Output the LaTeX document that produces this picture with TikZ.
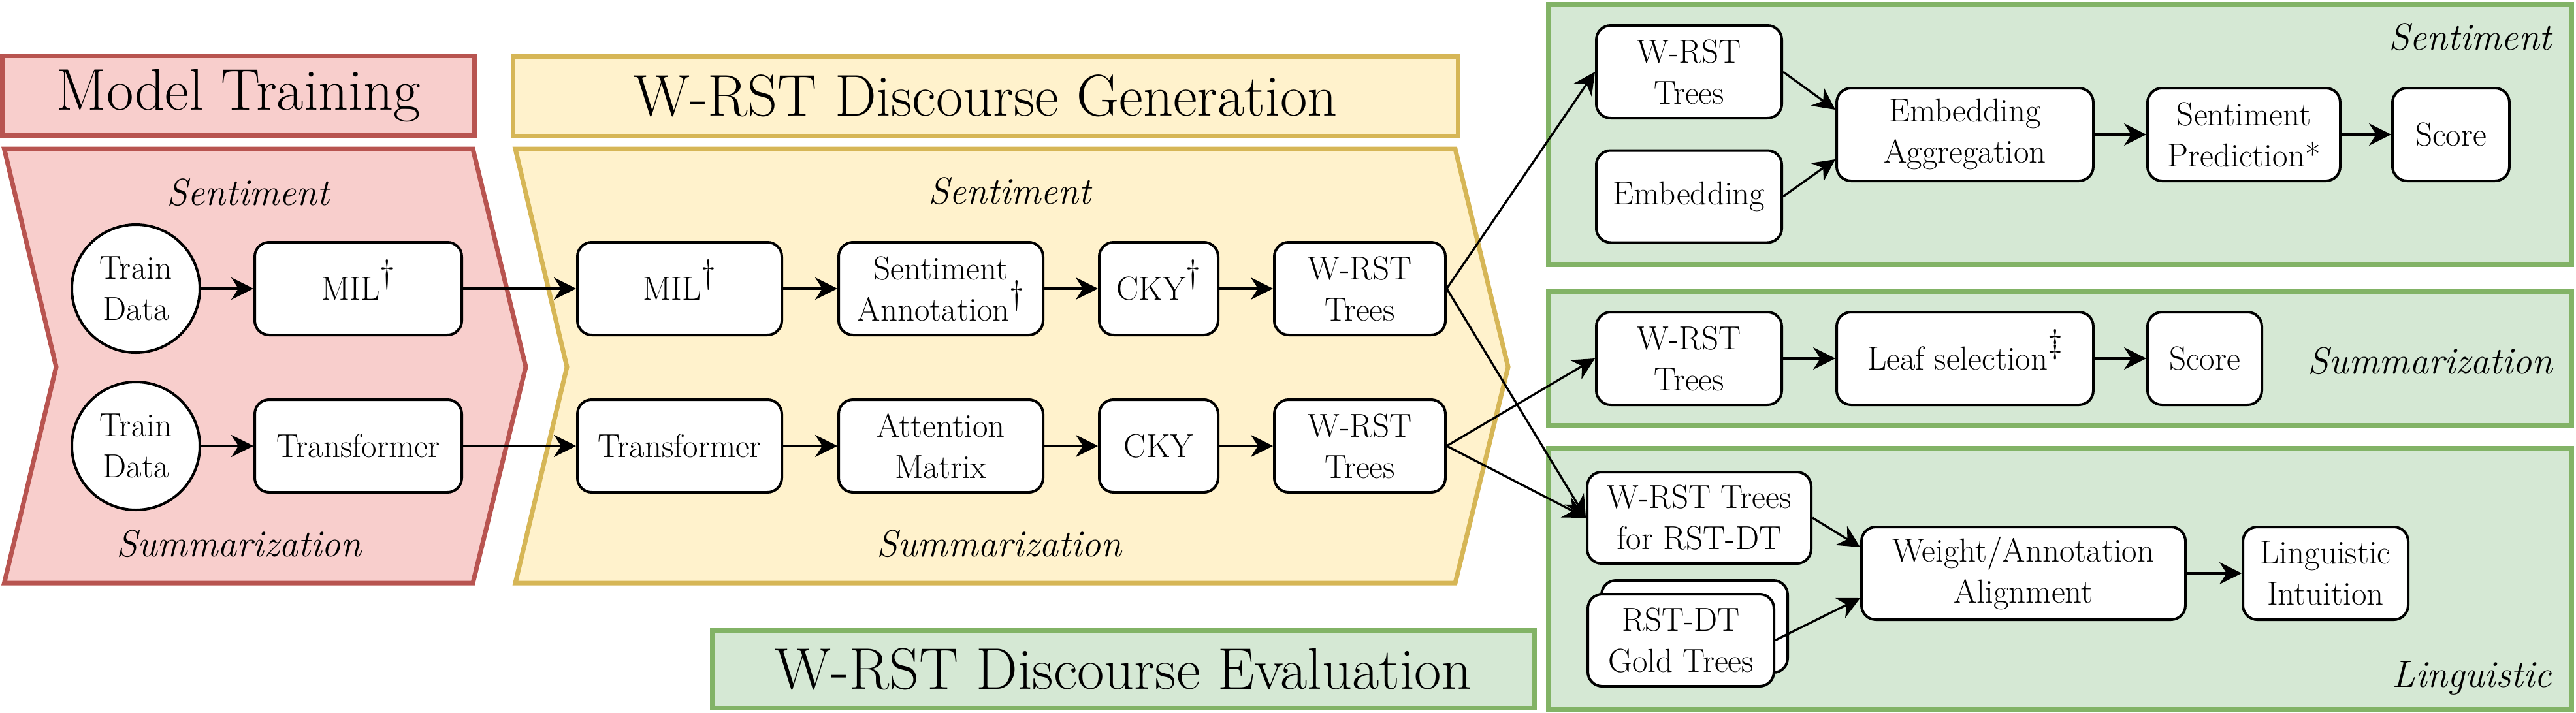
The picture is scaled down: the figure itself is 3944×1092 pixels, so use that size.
\documentclass[tikz,border=0pt]{standalone}
\usepackage{fontspec}
\usetikzlibrary{arrows.meta}
\definecolor{redS}{HTML}{B85450}
\definecolor{redF}{HTML}{F8CECC}
\definecolor{yelS}{HTML}{D6B656}
\definecolor{yelF}{HTML}{FFF2CC}
\definecolor{grnS}{HTML}{82B366}
\definecolor{grnF}{HTML}{D5E8D4}
\newcommand{\myboxfont}{\fontsize{51}{63}\selectfont}
\newcommand{\mylabfont}{\fontsize{58}{68}\selectfont\itshape}
\newcommand{\mytitlefont}{\fontsize{90}{100}\selectfont}
\newcommand{\mydag}{\raisebox{26pt}[0pt][0pt]{\dag}}
\newcommand{\myddag}{\raisebox{26pt}[0pt][0pt]{\ddag}}
\begin{document}
\begin{tikzpicture}[x=1pt,y=-1pt,
  bx/.style 2 args={draw, line width=4pt, rounded corners=22pt, fill=white, align=center,
    font=\myboxfont, inner sep=0pt, minimum width=#1pt, minimum height=#2pt},
  circ/.style={draw, circle, line width=4pt, fill=white, align=center, font=\myboxfont,
    minimum size=196pt, inner sep=0pt},
  arr/.style={line width=3.3pt, -{Stealth[length=34pt,width=34pt,inset=11pt]}},
  lbl/.style={font=\mylabfont, inner sep=0pt},
  ttl/.style 2 args={draw, line width=7pt, font=\mytitlefont, inner sep=0pt,
    minimum width=#1pt, minimum height=#2pt},
  panel/.style={line width=7pt}
]
\useasboundingbox (0,0) rectangle (3944,1092);

% panels
\draw[panel, draw=redS, fill=redF] (6.5,228) -- (724,228) -- (805,562) -- (724,893) -- (6.5,893) -- (86,562) -- cycle;
\draw[panel, draw=yelS, fill=yelF] (789,228) -- (2228,228) -- (2309,562) -- (2228,893) -- (789,893) -- (868,562) -- cycle;
\draw[panel, draw=grnS, fill=grnF] (2370,6.5) rectangle (3937.5,405.5);
\draw[panel, draw=grnS, fill=grnF] (2370,446) rectangle (3937.5,651);
\draw[panel, draw=grnS, fill=grnF] (2370,686) rectangle (3937.5,1086);

% titles
\node[ttl={723}{122}, draw=redS, fill=redF] (tmt) at (365,146.5) {Model Training};
\node[ttl={1447}{122}, draw=yelS, fill=yelF] (tgen) at (1509,147) {W-RST Discourse Generation};
\node[ttl={1259}{119}, draw=grnS, fill=grnF] (teval) at (1720,1025) {W-RST Discourse Evaluation};

% labels
\node[lbl, anchor=base] (l1) at (380,314) {Sentiment};
\node[lbl, anchor=base] (l2) at (366,852) {Summarization};
\node[lbl, anchor=base] (l3) at (1546,312) {Sentiment};
\node[lbl, anchor=base] (l4) at (1530,852) {Summarization};
\node[lbl, anchor=base east] (l5) at (3907,76) {Sentiment};
\node[lbl, anchor=base east] (l6) at (3909,572) {Summarization};
\node[lbl, anchor=base east] (l7) at (3907,1052) {Linguistic};

% model training
\node[circ] (td1) at (208,442) {Train\\Data};
\node[circ] (td2) at (208,683) {Train\\Data};
\node[bx={317}{142}] (mil1) at (548.5,442) {MIL\mydag};
\node[bx={317}{142}] (tr1) at (548.5,683) {Transformer};

% generation
\node[bx={313}{142}] (mil2) at (1040.5,442) {MIL\mydag};
\node[bx={313}{142}] (sa) at (1440.5,442) {Sentiment\\Annotation\mydag};
\node[bx={182}{142}] (cky1) at (1774,442) {CKY\mydag};
\node[bx={262}{142}] (wt1) at (2082,442) {W-RST\\Trees};
\node[bx={313}{142}] (tr2) at (1040.5,683) {Transformer};
\node[bx={313}{142}] (am) at (1440.5,683) {Attention\\Matrix};
\node[bx={182}{142}] (cky2) at (1774,683) {CKY};
\node[bx={262}{142}] (wt2) at (2082,683) {W-RST\\Trees};

% sentiment evaluation
\node[bx={284}{142}] (wt3) at (2586,110) {W-RST\\Trees};
\node[bx={284}{141}] (emb) at (2586,301) {Embedding};
\node[bx={393}{142}] (ea) at (3008.5,206) {Embedding\\Aggregation};
\node[bx={295}{142}] (sp) at (3435.5,206) {Sentiment\\Prediction*};
\node[bx={179}{142}] (sc1) at (3752.5,206) {Score};

% summarization evaluation
\node[bx={284}{142}] (wt4) at (2586,549) {W-RST\\Trees};
\node[bx={393}{142}] (leaf) at (3008.5,549) {Leaf selection\myddag};
\node[bx={175}{142}] (sc2) at (3375.5,549) {Score};

% linguistic evaluation
\node[bx={343}{140}] (wtr) at (2601.5,793) {W-RST Trees\\for RST-DT};
\node[bx={285}{141}] (goldb) at (2594.5,959.5) {};
\node[bx={285}{141}] (gold) at (2573.5,980.5) {RST-DT\\Gold Trees};
\node[bx={496}{142}] (waa) at (3098,878) {Weight/Annotation\\Alignment};
\node[bx={253}{142}] (li) at (3560.5,878) {Linguistic\\Intuition};

% connectors
\draw[arr] (td1) -- (mil1);
\draw[arr] (td2) -- (tr1);
\draw[arr] (mil1) -- (mil2);
\draw[arr] (tr1) -- (tr2);
\draw[arr] (mil2) -- (sa);
\draw[arr] (sa) -- (cky1);
\draw[arr] (cky1) -- (wt1);
\draw[arr] (tr2) -- (am);
\draw[arr] (am) -- (cky2);
\draw[arr] (cky2) -- (wt2);
\draw[arr] (wt1.east) -- (wt3.west);
\draw[arr] (wt1.east) -- (wtr.west);
\draw[arr] (wt2.east) -- (wt4.west);
\draw[arr] (wt2.east) -- (wtr.west);
\draw[arr] (wt3.east) -- ([yshift=38pt]ea.west);
\draw[arr] (emb.east) -- ([yshift=-38pt]ea.west);
\draw[arr] (ea) -- (sp);
\draw[arr] (sp) -- (sc1);
\draw[arr] (wt4) -- (leaf);
\draw[arr] (leaf) -- (sc2);
\draw[arr] (wtr.east) -- ([yshift=40pt]waa.west);
\draw[arr] (gold.east) -- ([yshift=-38pt]waa.west);
\draw[arr] (waa) -- (li);
\end{tikzpicture}
\end{document}
